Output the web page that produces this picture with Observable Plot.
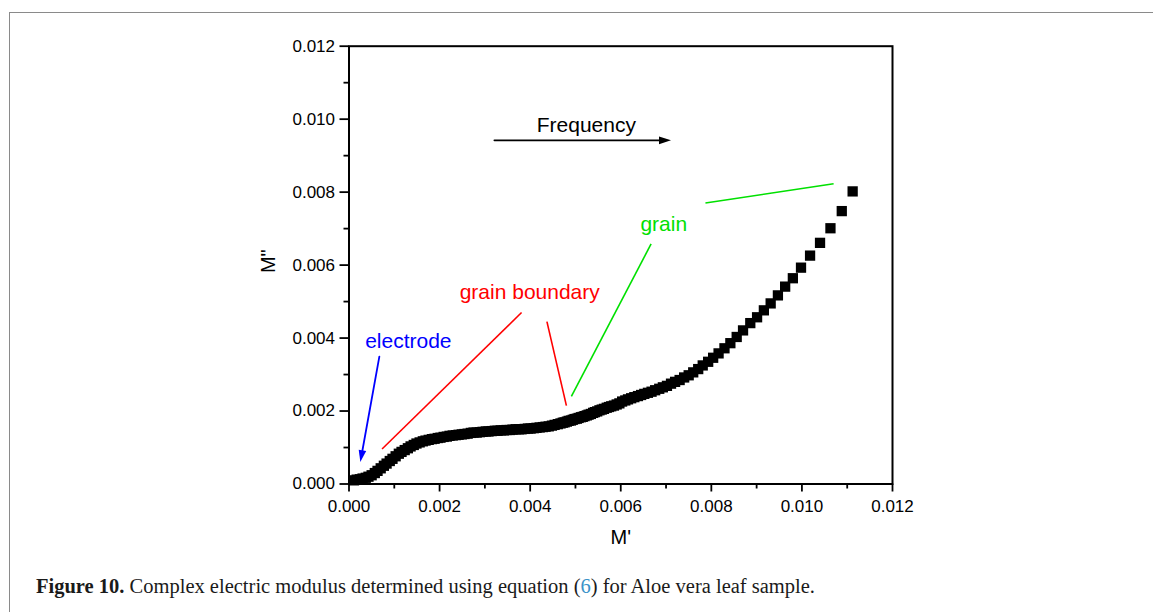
<!DOCTYPE html>
<html><head><meta charset="utf-8">
<script src="https://cdn.jsdelivr.net/npm/d3@7"></script>
<script src="https://cdn.jsdelivr.net/npm/@observablehq/plot@0.6"></script>
<style>
body{margin:0;background:#fff;}
#wrap{position:relative;width:1153px;height:612px;overflow:hidden;background:#fff;}
#border{position:absolute;left:9px;top:12px;width:1300px;height:800px;border-top:1px solid #8a8a8a;border-left:1px solid #8a8a8a;}
#chart{position:absolute;left:0;top:0;}
#caption{position:absolute;left:36px;top:575px;font-family:"Liberation Serif","Times New Roman",serif;font-size:20.5px;color:#1a1a1a;white-space:nowrap;}
#caption b{font-weight:bold;}
#caption span{color:#3a92c8;}
</style></head><body>
<div id="wrap"><div id="border"></div><div id="chart"></div>
<div id="caption"><b>Figure 10.</b> Complex electric modulus determined using equation (<span>6</span>) for Aloe vera leaf sample.</div></div>
<script>
// M' (real part) and M'' (imaginary part) of the complex electric modulus
const mReal = [
0.00011,0.00017,0.00024,0.00030,0.00037,0.00043,0.00050,0.00057,0.00063,0.00070,
0.00077,0.00083,0.00090,0.00096,0.00103,0.00110,0.00116,0.00123,0.00130,0.00136,
0.00143,0.00149,0.00156,0.00163,0.00169,0.00176,0.00183,0.00189,0.00196,0.00202,
0.00209,0.00216,0.00222,0.00229,0.00236,0.00242,0.00249,0.00255,0.00262,0.00269,
0.00275,0.00282,0.00289,0.00295,0.00302,0.00308,0.00315,0.00322,0.00328,0.00335,
0.00342,0.00348,0.00355,0.00361,0.00368,0.00375,0.00381,0.00388,0.00395,0.00401,
0.00408,0.00414,0.00421,0.00428,0.00434,0.00441,0.00448,0.00454,0.00461,
0.00467,0.00472,0.00476,0.00481,0.00485,0.00490,0.00494,0.00498,0.00503,0.00507,
0.00512,0.00516,0.00520,0.00525,0.00529,0.00534,0.00539,0.00543,0.00548,0.00553,
0.00558,0.00563,0.00569,0.00574,0.00579,0.00585,0.00591,0.00597,0.00603,0.00610,
0.00616,0.00623,0.00630,0.00638,0.00645,0.00652,0.00660,0.00668,0.00676,0.00685,
0.00693,0.00702,0.00711,0.00720,0.00730,0.00740,0.00750,0.00760,0.00771,0.00781,
0.00793,0.00804,0.00816,0.00829,0.00842,0.00856,0.00870,0.00886,0.00901,0.00916,
0.00931,0.00947,0.00963,0.00980,0.00998,0.01018,0.01040,0.01063,0.01088,0.01112
];
const mImag = [
0.00010,0.00012,0.00013,0.00015,0.00017,0.00020,0.00024,0.00030,0.00036,0.00043,
0.00050,0.00056,0.00063,0.00069,0.00076,0.00083,0.00088,0.00093,0.00098,0.00103,
0.00107,0.00111,0.00114,0.00117,0.00119,0.00121,0.00123,0.00124,0.00126,0.00127,
0.00129,0.00130,0.00132,0.00133,0.00134,0.00135,0.00136,0.00137,0.00138,0.00140,
0.00141,0.00141,0.00142,0.00143,0.00144,0.00144,0.00145,0.00146,0.00146,0.00147,
0.00147,0.00148,0.00148,0.00149,0.00150,0.00150,0.00150,0.00151,0.00152,0.00152,
0.00153,0.00154,0.00155,0.00156,0.00157,0.00158,0.00160,0.00162,0.00164,
0.00166,0.00168,0.00169,0.00171,0.00173,0.00174,0.00176,0.00178,0.00179,0.00181,
0.00183,0.00184,0.00186,0.00188,0.00190,0.00192,0.00195,0.00197,0.00199,0.00202,
0.00204,0.00206,0.00209,0.00211,0.00213,0.00215,0.00218,0.00221,0.00226,0.00229,
0.00232,0.00235,0.00238,0.00241,0.00244,0.00247,0.00250,0.00253,0.00257,0.00261,
0.00265,0.00269,0.00275,0.00280,0.00285,0.00292,0.00298,0.00306,0.00315,0.00325,
0.00335,0.00346,0.00358,0.00372,0.00386,0.00403,0.00421,0.00441,0.00457,0.00476,
0.00495,0.00517,0.00541,0.00564,0.00593,0.00626,0.00661,0.00701,0.00748,0.00802
];

// axis ticks
const majorTicks = [0, 0.002, 0.004, 0.006, 0.008, 0.010, 0.012];
const minorTicks = [0.001, 0.003, 0.005, 0.007, 0.009, 0.011];
const xLabel = "M'";
const yLabel = 'M"';

// annotations (texts)
const annoText  = ["Frequency", "grain", "grain boundary", "electrode"];
const annoX     = [0.00524, 0.00695, 0.00399, 0.00131];
const annoY     = [0.00983, 0.00713, 0.00526, 0.00390];
const annoColor = ["#000000", "#00e000", "#ff0000", "#0000ff"];

// annotation lines without heads
const lineX1 = [0.00787, 0.00667, 0.00073, 0.00437];
const lineY1 = [0.00770, 0.00658, 0.00096, 0.00445];
const lineX2 = [0.01070, 0.00491, 0.00381, 0.00480];
const lineY2 = [0.00823, 0.00240, 0.00470, 0.00215];
const lineColor = ["#00e000", "#00e000", "#ff0000", "#ff0000"];

// arrows (with filled heads)
const arrowX1 = [0.00321, 0.00067];
const arrowY1 = [0.00942, 0.00349];
const arrowX2 = [0.00711, 0.00025];
const arrowY2 = [0.00942, 0.00060];
const arrowColor = ["#000000", "#0000ff"];

const points = mReal.map((v, i) => ({x: v, y: mImag[i]}));
const annos = annoText.map((t, i) => ({t, x: annoX[i], y: annoY[i], c: annoColor[i]}));
const lines = lineX1.map((v, i) => ({x1: v, y1: lineY1[i], x2: lineX2[i], y2: lineY2[i], c: lineColor[i]}));
const arrows = arrowX1.map((v, i) => ({x1: v, y1: arrowY1[i], x2: arrowX2[i], y2: arrowY2[i], c: arrowColor[i]}));

const headSymbol = {
  draw(ctx) { ctx.moveTo(0, 0); ctx.lineTo(-12, -3.8); ctx.lineTo(-12, 3.8); ctx.closePath(); }
};

const W = 1153, H = 560;
const mL = 348.5, mR = W - 892, mT = 45.7, mB = H - 483.5;

const chart = Plot.plot({
  width: W, height: H,
  marginLeft: mL, marginRight: mR, marginTop: mT, marginBottom: mB,
  style: {fontFamily: "'Liberation Sans', Arial, sans-serif", fontSize: "17px", color: "black", background: "transparent", overflow: "visible"},
  x: {domain: [0, 0.012]},
  y: {domain: [0, 0.012]},
  marks: [
    Plot.axisX(majorTicks, {tickSize: 8, tickPadding: 8, tickFormat: d3.format(".3f"), fontSize: 17, strokeWidth: 1.8, label: null}),
    Plot.axisX(minorTicks, {tickSize: 5, tickFormat: () => "", strokeWidth: 1.8, label: null}),
    Plot.axisY(majorTicks, {tickSize: 9, tickPadding: 5, tickFormat: d3.format(".3f"), fontSize: 17, strokeWidth: 1.8, label: null}),
    Plot.axisY(minorTicks, {tickSize: 5, tickFormat: () => "", strokeWidth: 1.8, label: null}),
    Plot.frame({stroke: "black", strokeWidth: 2}),
    Plot.text([xLabel], {text: d => d, frameAnchor: "bottom", dy: 60, fontSize: 20, fill: "black"}),
    Plot.text([yLabel], {text: d => d, frameAnchor: "left", dx: -80, dy: 8, rotate: -90, fontSize: 20, fill: "black"}),
    Plot.dot(points, {x: "x", y: "y", symbol: "square", r: 5.8, fill: "black", stroke: "none"}),
    Plot.link(lines, {x1: "x1", y1: "y1", x2: "x2", y2: "y2", stroke: "c", strokeWidth: 1.6}),
    Plot.arrow(arrows, {x1: "x1", y1: "y1", x2: "x2", y2: "y2", stroke: "c", strokeWidth: 1.8, headLength: 0, insetEnd: 8}),
    Plot.dot(arrows, {x: "x2", y: "y2", fill: "c", stroke: "none", symbol: headSymbol,
      rotate: d => Math.atan2(-(d.y2 - d.y1) / 0.012 * 437.8, (d.x2 - d.x1) / 0.012 * 543.5) * 180 / Math.PI}),
    Plot.text(annos, {x: "x", y: "y", text: "t", fill: "c", fontSize: 21})
  ]
});
document.getElementById("chart").appendChild(chart);
</script>
</body></html>
